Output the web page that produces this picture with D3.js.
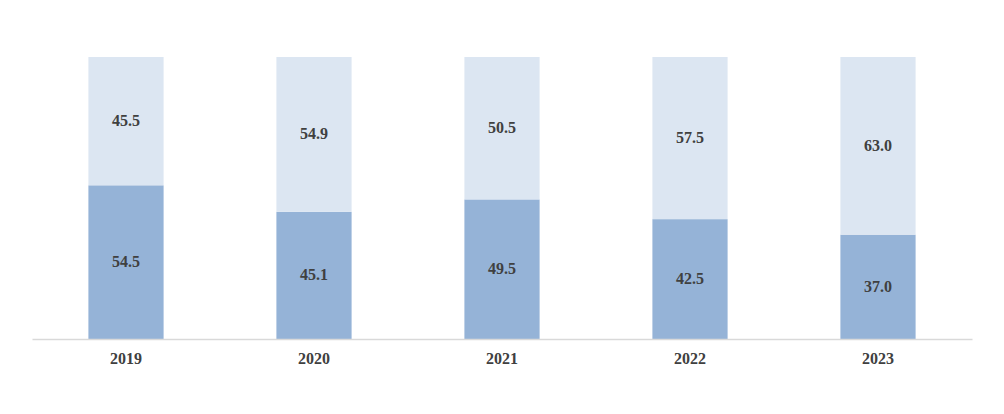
<!DOCTYPE html>
<html><head><meta charset="utf-8">
<script src="https://cdn.jsdelivr.net/npm/d3@7"></script>
<style>body{margin:0;background:#fff}text{font-family:"Liberation Serif","Times New Roman",serif;font-weight:bold;fill:#404040}</style>
</head><body>
<script>
var years = ["2019", "2020", "2021", "2022", "2023"],
	lower = [54.5, 45.1, 49.5, 42.5, 37.0],
	upper = [45.5, 54.9, 50.5, 57.5, 63.0];

var width = 1004, height = 414,
	plotLeft = 32, plotRight = 972, plotTop = 57, plotBottom = 339;

var svg = d3.select("body").append("svg")
	.attr("width", width).attr("height", height);

var x = d3.scaleBand().domain(years).range([plotLeft, plotRight]).paddingInner(0.6).paddingOuter(0.3);
var y = d3.scaleLinear().domain([0, 100]).range([plotBottom, plotTop]);

var data = years.map(function (d, i) { return { year: d, lo: lower[i], hi: upper[i] }; });

// lower segment
svg.selectAll(".lo").data(data).enter().append("rect")
	.attr("x", d => x(d.year)).attr("width", x.bandwidth())
	.attr("y", d => y(d.lo)).attr("height", d => y(0) - y(d.lo))
	.style("fill", "#95b3d7");

// upper segment
svg.selectAll(".hi").data(data).enter().append("rect")
	.attr("x", d => x(d.year)).attr("width", x.bandwidth())
	.attr("y", d => y(d.lo + d.hi)).attr("height", d => y(d.lo) - y(d.lo + d.hi))
	.style("fill", "#dce6f2");

svg.selectAll(".loLabel").data(data).enter().append("text")
	.attr("x", d => x(d.year) + x.bandwidth() / 2).attr("y", d => y(d.lo / 2) + 5)
	.attr("text-anchor", "middle").style("font-size", "16px")
	.text(d => d.lo.toFixed(1));

svg.selectAll(".hiLabel").data(data).enter().append("text")
	.attr("x", d => x(d.year) + x.bandwidth() / 2).attr("y", d => y(d.lo + d.hi / 2) + 5)
	.attr("text-anchor", "middle").style("font-size", "16px")
	.text(d => d.hi.toFixed(1));

var axis = svg.append("g").attr("transform", "translate(0," + plotBottom + ")")
	.call(d3.axisBottom(x).tickSize(0).tickPadding(14));
axis.select(".domain").attr("stroke", "#d9d9d9").attr("stroke-width", 1.5);
axis.selectAll("text").style("font-size", "16px").style("font-family", null).attr("fill", null);
</script>
</body></html>
